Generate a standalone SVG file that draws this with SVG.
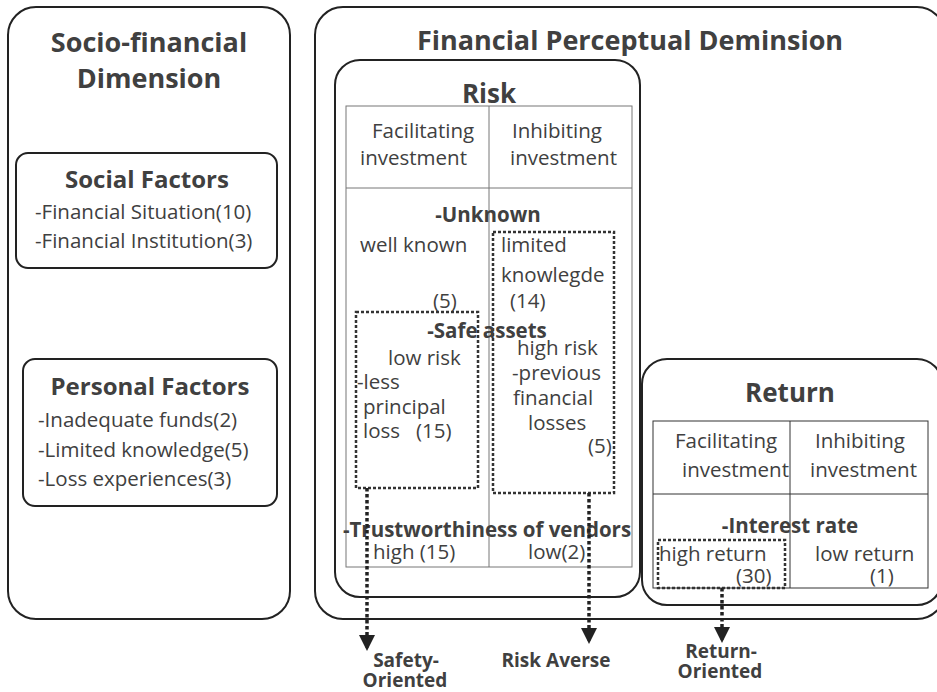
<svg xmlns="http://www.w3.org/2000/svg" width="937" height="692" viewBox="0 0 937 692">
<style>
.box{fill:none;stroke:#222;stroke-width:2}
.tbl{fill:none;stroke:#777;stroke-width:1}
.tbl2{fill:none;stroke:#333;stroke-width:1}
.dot{fill:none;stroke:#333;stroke-width:2.5;stroke-dasharray:3 2}
.arr{fill:none;stroke:#222;stroke-width:3.5;stroke-dasharray:3.5 2.5}
text{font-family:"Open Sans","Liberation Sans",sans-serif;fill:#404040;font-size:20.5px}
.b{font-weight:bold}
.h1{font-weight:bold;font-size:27px}
.h2{font-weight:bold;font-size:24px}
.h3{font-weight:bold;font-size:26px}
.lbl{font-weight:bold;font-size:19px}
.c{text-anchor:middle}
</style>
<defs>
<marker id="ah" viewBox="0 0 16 16" markerWidth="16" markerHeight="16" refX="15" refY="8" orient="auto" markerUnits="userSpaceOnUse">
<path d="M0,0 L16,8 L0,16 z" fill="#222"/>
</marker>
</defs>

<g id="socio">
<rect class="box" x="8" y="7" width="282" height="612" rx="28"/>
<text class="h1 c" x="149" y="52">Socio-financial</text>
<text class="h1 c" x="149" y="88">Dimension</text>
</g>

<g id="social">
<rect class="box" x="16" y="153" width="261" height="115" rx="12"/>
<text class="h2 c" x="147" y="188">Social Factors</text>
<text x="35" y="219">-Financial Situation(10)</text>
<text x="35" y="248">-Financial Institution(3)</text>
</g>

<g id="personal">
<rect class="box" x="23" y="359" width="254" height="147" rx="12"/>
<text class="h2 c" x="150" y="395">Personal Factors</text>
<text x="38" y="427">-Inadequate funds(2)</text>
<text x="38" y="457">-Limited knowledge(5)</text>
<text x="38" y="486">-Loss experiences(3)</text>
</g>

<g id="perceptual">
<rect class="box" x="315" y="7" width="630" height="612" rx="28"/>
<text class="h1 c" x="630" y="50">Financial Perceptual Deminsion</text>
</g>

<g id="risk">
<rect class="box" x="335" y="60" width="305" height="537" rx="25"/>
<text class="h3 c" x="489" y="103">Risk</text>
<rect class="tbl" x="346" y="106" width="286" height="461"/>
<line class="tbl" x1="346" y1="188" x2="632" y2="188"/>
<line class="tbl" x1="489" y1="106" x2="489" y2="567"/>
<text x="372" y="138">Facilitating</text>
<text x="360" y="165">investment</text>
<text x="512" y="138">Inhibiting</text>
<text x="510" y="165">investment</text>
<text class="b c" x="488" y="222">-Unknown</text>
<text x="360" y="252">well known</text>
<text x="501" y="252">limited</text>
<text x="501" y="282">knowlegde</text>
<text x="433" y="308">(5)</text>
<text x="510" y="308">(14)</text>
<rect class="dot" x="493" y="232" width="121" height="261"/>
<rect class="dot" x="356" y="312" width="122" height="176"/>
<text class="b c" x="487" y="338">-Safe assets</text>
<text x="388" y="365">low risk</text>
<text x="357" y="389">-less</text>
<text x="363" y="414">principal</text>
<text x="363" y="438" xml:space="preserve">loss   (15)</text>
<text x="517" y="355">high risk</text>
<text x="512" y="380">-previous</text>
<text x="513" y="405">financial</text>
<text x="528" y="430">losses</text>
<text x="588" y="453">(5)</text>
<text class="b c" x="487" y="537">-Trustworthiness of vendors</text>
<text x="373" y="559">high (15)</text>
<text x="528" y="559">low(2)</text>
</g>

<g id="return">
<rect class="box" x="642" y="359" width="300" height="246" rx="25"/>
<text class="h3 c" x="790" y="402">Return</text>
<rect class="tbl2" x="653" y="421" width="275" height="167"/>
<line class="tbl2" x1="653" y1="494" x2="928" y2="494"/>
<line class="tbl2" x1="790" y1="421" x2="790" y2="588"/>
<text x="675" y="448">Facilitating</text>
<text x="682" y="477">investment</text>
<text x="815" y="448">Inhibiting</text>
<text x="810" y="477">investment</text>
<text class="b c" x="790" y="533">-Interest rate</text>
<text x="659" y="561">high return</text>
<text x="736" y="583">(30)</text>
<text x="815" y="561">low return</text>
<text x="870" y="583">(1)</text>
<rect class="dot" x="658" y="540" width="127" height="48"/>
</g>

<g id="connectors">
<line class="arr" x1="367" y1="488" x2="367" y2="650" marker-end="url(#ah)"/>
<line class="arr" x1="589" y1="493" x2="589" y2="643" marker-end="url(#ah)"/>
<line class="arr" x1="722" y1="588" x2="722" y2="642" marker-end="url(#ah)"/>
</g>

<g id="outcomes">
<text class="lbl c" x="406" y="667">Safety-</text>
<text class="lbl c" x="405" y="687">Oriented</text>
<text class="lbl c" x="556" y="667">Risk Averse</text>
<text class="lbl c" x="721" y="658">Return-</text>
<text class="lbl c" x="720" y="678">Oriented</text>
</g>
</svg>
